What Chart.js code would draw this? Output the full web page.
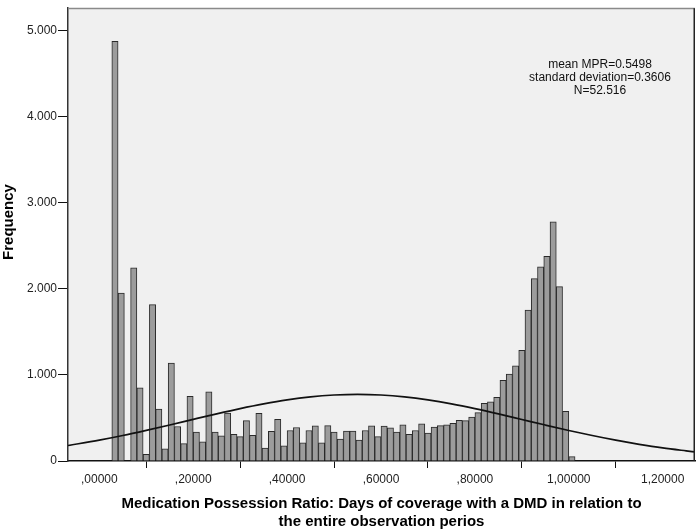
<!DOCTYPE html>
<html>
<head>
<meta charset="utf-8">
<script src="https://cdn.jsdelivr.net/npm/chart.js@4"></script>
<style>
  html, body { margin: 0; padding: 0; background: #ffffff; }
  #wrap { width: 696px; height: 532px; position: relative; }
</style>
</head>
<body>
<div id="wrap"><canvas id="c" width="696" height="532"></canvas></div>
<script>
// Histogram: bin width 1/75, first bin starts at 2/75
const binWidth = 1 / 75;
const firstBinIndex = 2;
const counts = [
  4880, 1951, 0, 2245, 851, 77, 1818, 604, 141, 1137,
  401, 202, 752, 336, 222, 805, 336, 294, 558, 309,
  284, 470, 298, 554, 149, 344, 485, 176, 355, 389,
  210, 355, 408, 210, 412, 336, 256, 347, 347, 244,
  355, 408, 283, 405, 386, 336, 420, 309, 355, 431,
  325, 393, 412, 420, 439, 474, 470, 512, 562, 670,
  687, 740, 937, 1010, 1107, 1287, 1754, 2121, 2257, 2379,
  2780, 2027, 576, 50
];
const binCenters = counts.map((_, i) => (firstBinIndex + i + 0.5) * binWidth);

// Normal curve
const curveX = [-0.0667, 0, 0.05, 0.1, 0.15, 0.2, 0.25, 0.3, 0.35, 0.4, 0.45, 0.5, 0.55, 0.6, 0.65, 0.7, 0.75, 0.8, 0.85, 0.9, 0.95, 1.0, 1.05, 1.1, 1.15, 1.2, 1.25, 1.2688];
const curveY = [180, 242, 296, 356, 419, 484, 548, 609, 664, 711, 746, 767, 775, 767, 745, 710, 664, 609, 548, 483, 418, 355, 296, 242, 194, 152, 118, 106];

const xTickValues = [0, 0.2, 0.4, 0.6, 0.8, 1.0, 1.2];
const xTickLabels = [',00000', ',20000', ',40000', ',60000', ',80000', '1,00000', '1,20000'];
const yTickValues = [0, 1000, 2000, 3000, 4000, 5000];
const yTickLabels = ['0', '1.000', '2.000', '3.000', '4.000', '5.000'];

const statsLines = ['mean MPR=0.5498', 'standard deviation=0.3606', 'N=52.516'];
const xTitleLines = ['Medication Possession Ratio: Days of coverage with a DMD in relation to', 'the entire observation perios'];
const yTitle = 'Frequency';

const FONT = "'Liberation Sans', Arial, Helvetica, sans-serif";

const decor = {
  id: 'decor',
  beforeDraw(chart) {
    const { ctx, chartArea: a } = chart;
    ctx.save();
    ctx.fillStyle = '#f0f0f0';
    ctx.fillRect(a.left, a.top, a.right - a.left, a.bottom - a.top);
    ctx.restore();
  },
  afterDraw(chart) {
    const { ctx, chartArea: a } = chart;
    ctx.save();
    // frame top and right
    ctx.strokeStyle = '#8a8a8a';
    ctx.lineWidth = 1.5;
    ctx.beginPath();
    ctx.moveTo(a.left, a.top + 0.25);
    ctx.lineTo(a.right, a.top + 0.25);
    ctx.stroke();
    ctx.strokeStyle = '#222';
    ctx.lineWidth = 1.5;
    ctx.beginPath();
    ctx.moveTo(a.right - 0.75, a.top);
    ctx.lineTo(a.right - 0.75, a.bottom);
    ctx.stroke();

    // stats text
    ctx.fillStyle = '#111';
    ctx.font = '12px ' + FONT;
    ctx.textAlign = 'center';
    ctx.textBaseline = 'middle';
    statsLines.forEach((t, i) => ctx.fillText(t, 600, 65 + i * 13));

    // x title
    ctx.fillStyle = '#000';
    ctx.font = 'bold 15px ' + FONT;
    const cx = (a.left + a.right) / 2;
    xTitleLines.forEach((t, i) => ctx.fillText(t, cx, 504 + i * 18));

    // y title
    ctx.translate(9, 222);
    ctx.rotate(-Math.PI / 2);
    ctx.fillText(yTitle, 0, 0);
    ctx.restore();
  }
};

new Chart(document.getElementById('c'), {
  type: 'bar',
  data: {
    datasets: [
      {
        type: 'line',
        data: curveX.map((x, i) => ({ x, y: curveY[i] })),
        borderColor: '#111',
        borderWidth: 1.7,
        pointRadius: 0,
        fill: false,
        cubicInterpolationMode: 'monotone',
        order: 0
      },
      {
        type: 'bar',
        data: binCenters.map((x, i) => ({ x, y: counts[i] })),
        backgroundColor: '#9c9c9c',
        borderColor: '#2a2a2a',
        borderWidth: 1,
        borderSkipped: 'bottom',
        barPercentage: 1.0,
        categoryPercentage: 1.0,
        order: 1
      }
    ]
  },
  options: {
    responsive: false,
    animation: false,
    events: [],
    layout: { padding: { top: 2, right: 1, left: 0, bottom: 0 } },
    plugins: { legend: { display: false }, tooltip: { enabled: false } },
    scales: {
      x: {
        type: 'linear',
        min: -0.0667,
        max: 1.2688,
        offset: false,
        afterBuildTicks(scale) {
          scale.ticks = xTickValues.map(v => ({ value: v }));
        },
        afterFit(scale) { scale.height = 71; },
        ticks: {
          autoSkip: false,
          maxRotation: 0,
          padding: 4,
          color: '#222',
          font: { family: FONT, size: 12 },
          callback(v) {
            const i = xTickValues.findIndex(t => Math.abs(t - v) < 1e-9);
            return i >= 0 ? xTickLabels[i] : '';
          }
        },
        grid: { display: true, drawOnChartArea: false, drawTicks: true, tickLength: 7, color: '#111', lineWidth: 1 },
        border: { display: true, color: '#111', width: 1.5 }
      },
      y: {
        type: 'linear',
        min: 0,
        max: 5264,
        afterBuildTicks(scale) {
          scale.ticks = yTickValues.map(v => ({ value: v }));
        },
        afterFit(scale) { scale.width = 68; },
        ticks: {
          padding: 1,
          color: '#222',
          font: { family: FONT, size: 12 },
          callback(v) {
            const i = yTickValues.indexOf(v);
            return i >= 0 ? yTickLabels[i] : '';
          }
        },
        grid: { display: true, drawOnChartArea: false, drawTicks: true, tickLength: 10, color: '#111', lineWidth: 1 },
        border: { display: true, color: '#333', width: 1.5 }
      }
    }
  },
  plugins: [decor]
});
</script>
</body>
</html>
